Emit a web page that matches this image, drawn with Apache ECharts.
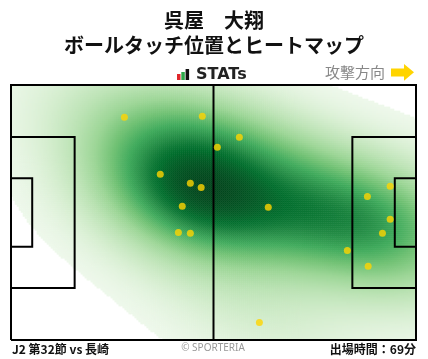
<!DOCTYPE html>
<html><head><meta charset="utf-8">
<script src="https://cdn.jsdelivr.net/npm/echarts@6/dist/echarts.min.js"></script>
<style>html,body{margin:0;padding:0;background:#fff}#c{width:428px;height:359px}</style>
</head><body><div id="c"></div>
<script>
// ---- data (pitch metres, 105 x 68, y measured from bottom touchline) ----
const touchX = [29.4, 49.6, 53.5, 59.2, 38.7, 46.5, 49.3, 44.4, 66.7, 43.4, 46.5, 64.4, 98.3, 92.4, 98.3, 96.3, 87.2, 92.6];
const touchY = [59.4, 59.7, 51.4, 54.1, 44.2, 41.8, 40.7, 35.7, 35.4, 28.7, 28.5, 4.7, 41.0, 38.3, 32.2, 28.5, 23.9, 19.7];
const titleLine1 = '呉屋\u3000大翔';
const titleLine2 = 'ボールタッチ位置とヒートマップ';
const matchLabel = 'J2 第32節 vs 長崎';
const minutesLabel = '出場時間：69分';
const directionLabel = '攻撃方向';
const pitchLength = 105, pitchWidth = 68;

// ---- pitch markings (metres) ----
const pitchLines = [
  [[0,0],[105,0],[105,68],[0,68],[0,0]],
  [[52.5,0],[52.5,68]],
  [[0,13.84],[16.5,13.84],[16.5,54.16],[0,54.16]],
  [[0,24.84],[5.5,24.84],[5.5,43.16],[0,43.16]],
  [[105,13.84],[88.5,13.84],[88.5,54.16],[105,54.16]],
  [[105,24.84],[99.5,24.84],[99.5,43.16],[105,43.16]]
];

// ---- kernel density estimate of the touches (Scott bandwidth, full covariance) ----
const n = touchX.length;
let mx = 0, my = 0;
for (let i = 0; i < n; i++) { mx += touchX[i]; my += touchY[i]; }
mx /= n; my /= n;
let sxx = 0, syy = 0, sxy = 0;
for (let i = 0; i < n; i++) { const dx = touchX[i]-mx, dy = touchY[i]-my; sxx += dx*dx; syy += dy*dy; sxy += dx*dy; }
sxx /= (n-1); syy /= (n-1); sxy /= (n-1);
const fac = Math.pow(n, -1/6);
const bw = 1.35;
const hxx = sxx*fac*fac*bw*bw, hyy = syy*fac*fac*bw*bw, hxy = sxy*fac*fac*bw*bw;
const det = hxx*hyy - hxy*hxy;
const ixx = hyy/det, iyy = hxx/det, ixy = -hxy/det;
function dens(x, y) {
  let s = 0;
  for (let i = 0; i < n; i++) {
    const dx = x-touchX[i], dy = y-touchY[i];
    s += Math.exp(-0.5*(dx*dx*ixx + 2*dx*dy*ixy + dy*dy*iyy));
  }
  return s;
}
// mass proportions on an extended grid (iso-proportion levels)
const ext = [];
for (let x = -60; x <= 165; x += 1) for (let y = -60; y <= 128; y += 1) ext.push(dens(x, y));
ext.sort((a,b)=>a-b);
const cum = new Float64Array(ext.length);
let acc = 0;
for (let i = 0; i < ext.length; i++) { acc += ext[i]; cum[i] = acc; }
function prop(v) {
  let lo = 0, hi = ext.length-1;
  while (lo < hi) { const m = (lo+hi+1)>>1; if (ext[m] <= v) lo = m; else hi = m-1; }
  return cum[lo]/acc;
}
const thresh = 0.03;
const NX = 203, NY = 128;
const cellData = [];
for (let i = 0; i < NX; i++) {
  for (let j = 0; j < NY; j++) {
    const x = (i+0.5)/NX*pitchLength, y = (j+0.5)/NY*pitchWidth;
    const p = prop(dens(x, y));
    if (p >= thresh) cellData.push([i, j, p]);
  }
}
const xCats = Array.from({length: NX}, (_, i) => i);
const yCats = Array.from({length: NY}, (_, j) => j);

const chart = echarts.init(document.getElementById('c'), null, {renderer: 'canvas'});
const gridPos = {left: 11, top: 85, width: 405, height: 255};
const CJK = '"Noto Sans CJK JP", "Noto Sans", sans-serif';
chart.setOption({
  animation: false,
  grid: [Object.assign({}, gridPos), Object.assign({}, gridPos)],
  xAxis: [
    {type: 'category', data: xCats, gridIndex: 0, show: false, boundaryGap: true},
    {type: 'value', min: 0, max: pitchLength, gridIndex: 1, show: false}
  ],
  yAxis: [
    {type: 'category', data: yCats, gridIndex: 0, show: false, boundaryGap: true},
    {type: 'value', min: 0, max: pitchWidth, gridIndex: 1, show: false}
  ],
  visualMap: {
    show: false, type: 'continuous', seriesIndex: 0, dimension: 2, min: thresh, max: 1,
    inRange: {color: ['#eef8eb','#d6eed0','#bce3b5','#9dd697','#72c275','#41ab5d','#238b45','#006d2c','#00441b']}
  },
  series: [
    {type: 'heatmap', xAxisIndex: 0, yAxisIndex: 0, data: cellData, progressive: 0, z: 1},
    {type: 'lines', coordinateSystem: 'cartesian2d', xAxisIndex: 1, yAxisIndex: 1, polyline: true,
     data: pitchLines.map(c => ({coords: c})), lineStyle: {color: '#000', width: 2, opacity: 1}, z: 3, silent: true},
    {type: 'scatter', xAxisIndex: 1, yAxisIndex: 1, data: touchX.map((x, i) => [x, touchY[i]]),
     symbolSize: 7, itemStyle: {color: '#FFD400'}, z: 5, silent: true}
  ],
  graphic: [
    {type: 'text', left: 'center', top: 10, style: {text: titleLine1, font: 'bold 20px ' + CJK, fill: '#111'}},
    {type: 'text', left: 'center', top: 35, style: {text: titleLine2, font: 'bold 20px ' + CJK, fill: '#111'}},
    {type: 'rect', shape: {x: 177, y: 74, width: 3.5, height: 6}, style: {fill: '#e0262b'}},
    {type: 'rect', shape: {x: 181.3, y: 72, width: 3.5, height: 8}, style: {fill: '#2ea84a'}},
    {type: 'rect', shape: {x: 185.6, y: 69, width: 3.5, height: 11}, style: {fill: '#111'}},
    {type: 'text', x: 196, y: 74.5, style: {text: 'STATs', font: 'bold 16px "DejaVu Sans", sans-serif', fill: '#222', textVerticalAlign: 'middle'}},
    {type: 'text', x: 385, y: 72, style: {text: directionLabel, font: '15px ' + CJK, fill: '#888', textAlign: 'right', textVerticalAlign: 'middle'}},
    {type: 'polygon', shape: {points: [[391,68.5],[404,68.5],[404,64],[414,72.3],[404,80.7],[404,76.5],[391,76.5]]}, style: {fill: '#FFD400'}},
    {type: 'text', x: 12, y: 349, style: {text: matchLabel, font: 'bold 12px ' + CJK, fill: '#111', textVerticalAlign: 'middle'}},
    {type: 'text', x: 213, y: 348, style: {text: '© SPORTERIA', font: '10px "Noto Sans", sans-serif', fill: '#999', textAlign: 'center', textVerticalAlign: 'middle'}},
    {type: 'text', x: 416, y: 349, style: {text: minutesLabel, font: 'bold 12px ' + CJK, fill: '#111', textAlign: 'right', textVerticalAlign: 'middle'}}
  ]
});
</script></body></html>
